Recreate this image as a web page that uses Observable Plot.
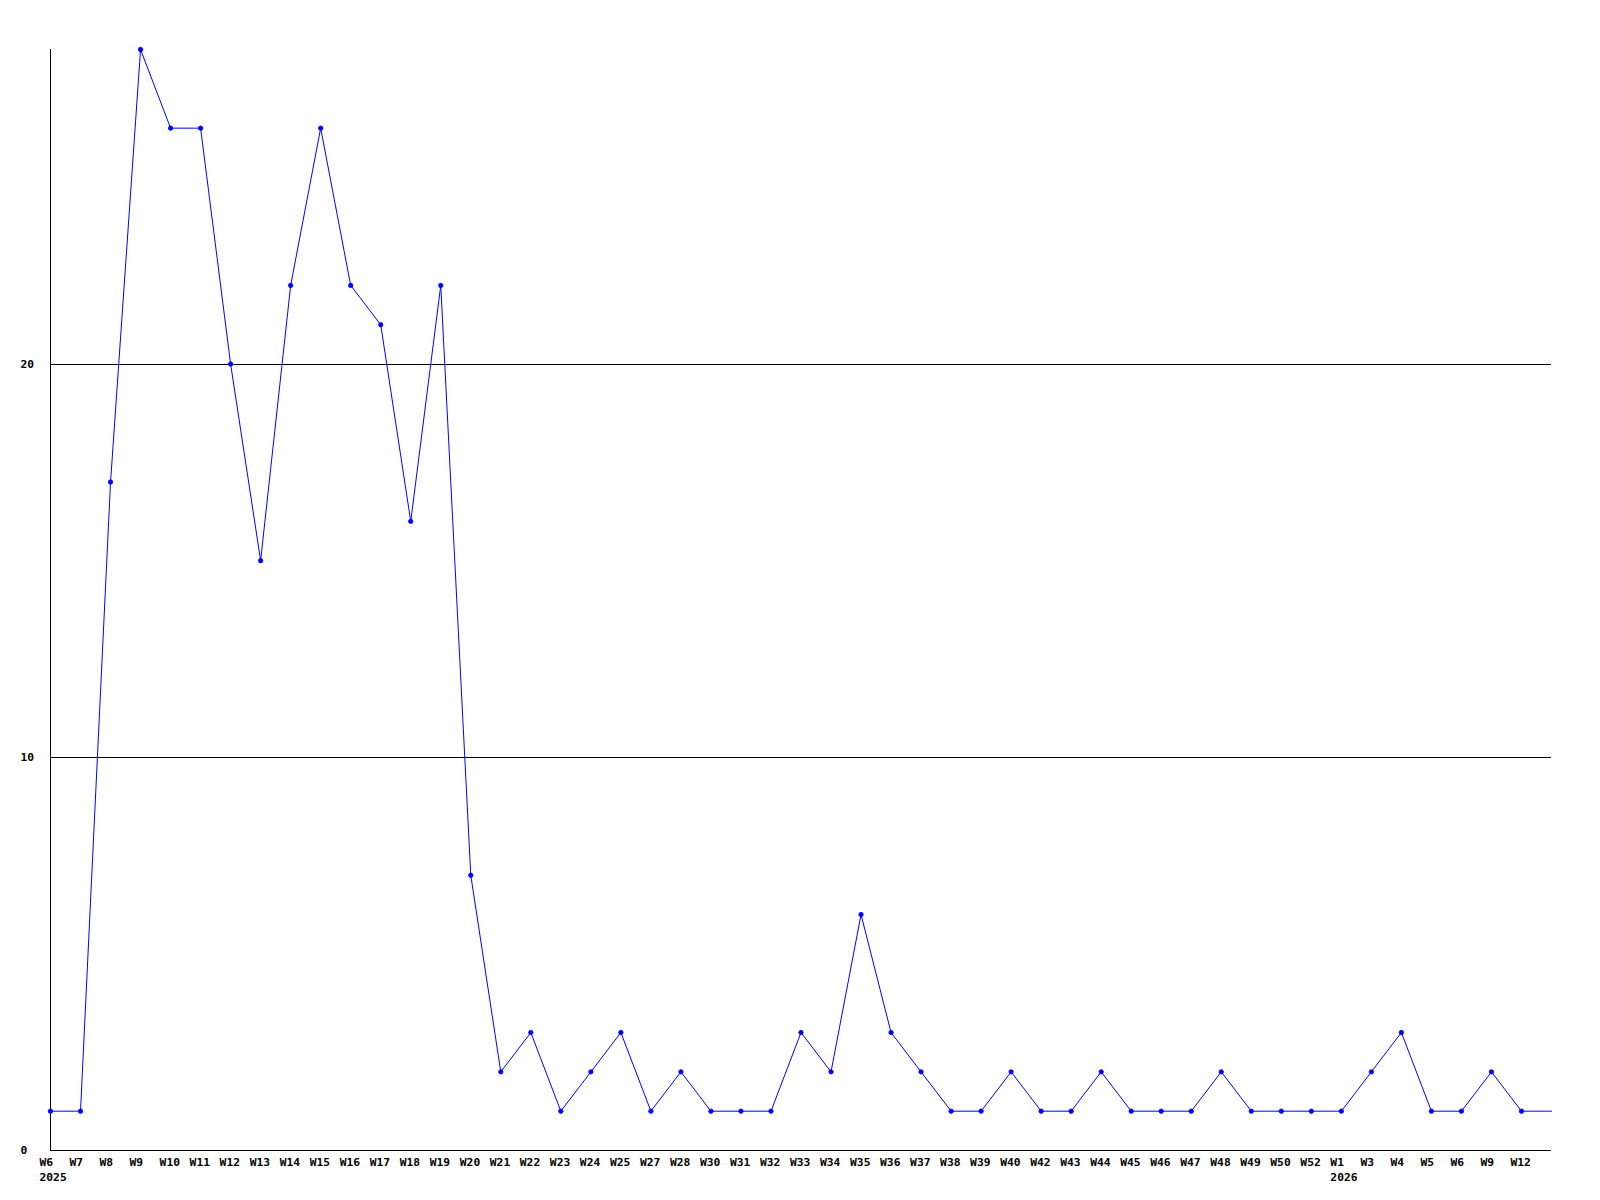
<!DOCTYPE html>
<html>
<head>
<meta charset="utf-8">
<script src="https://cdn.jsdelivr.net/npm/d3@7"></script>
<script src="https://cdn.jsdelivr.net/npm/@observablehq/plot@0.6"></script>
<style>
  html, body { margin: 0; padding: 0; background: #fff; }
  svg { display: block; }
</style>
</head>
<body>
<div id="chart"></div>
<script>
const weekLabels = ["W6","W7","W8","W9","W10","W11","W12","W13","W14","W15","W16","W17","W18","W19","W20","W21","W22","W23","W24","W25","W27","W28","W30","W31","W32","W33","W34","W35","W36","W37","W38","W39","W40","W42","W43","W44","W45","W46","W47","W48","W49","W50","W52","W1","W3","W4","W5","W6","W9","W12",""];
const counts = [1,1,17,28,26,26,20,15,22,26,22,21,16,22,7,2,3,1,2,3,1,2,1,1,1,3,2,6,3,2,1,1,2,1,1,2,1,1,1,2,1,1,1,1,2,3,1,1,2,1,1];
const yearLabels = [{i: 0, text: "2025"}, {i: 43, text: "2026"}];
const yTicks = [0, 10, 20];
const gridLines = [10, 20];

const data = counts.map((v, i) => ({i, v, label: weekLabels[i]}));
const marked = data.filter(d => d.label !== "");

const font = "'DejaVu Sans Mono', monospace";

const chart = Plot.plot({
  width: 1600,
  height: 1200,
  marginLeft: 50,
  marginRight: 49,
  marginTop: 49,
  marginBottom: 50,
  style: {fontFamily: font, fontSize: "11.3px", fontWeight: "bold", background: "#fff", color: "#000"},
  x: {type: "linear", domain: [0, counts.length - 1], axis: null},
  y: {type: "linear", domain: [0, 28], axis: null},
  marks: [
    Plot.ruleY(gridLines, {stroke: "#000", strokeWidth: 1, shapeRendering: "crispEdges"}),
    Plot.ruleY([0], {stroke: "#000", strokeWidth: 1, shapeRendering: "crispEdges"}),
    Plot.ruleX([0], {stroke: "#000", strokeWidth: 1, shapeRendering: "crispEdges"}),
    Plot.line(data, {x: "i", y: "v", stroke: "#0000ff", strokeWidth: 1}),
    Plot.dot(marked, {x: "i", y: "v", r: 2.2, fill: "#0000ff", stroke: "#0000ff", strokeWidth: 0.8}),
    Plot.text(yTicks, {y: d => d, frameAnchor: "left", dx: -30, textAnchor: "start", text: d => String(d), fill: "#000"}),
    Plot.text(marked, {x: "i", frameAnchor: "bottom", dx: -11, dy: 15, textAnchor: "start", text: "label", fill: "#000"}),
    Plot.text(yearLabels, {x: "i", frameAnchor: "bottom", dx: -11, dy: 30, textAnchor: "start", text: "text", fill: "#000"})
  ]
});
document.getElementById("chart").appendChild(chart);
</script>
</body>
</html>
